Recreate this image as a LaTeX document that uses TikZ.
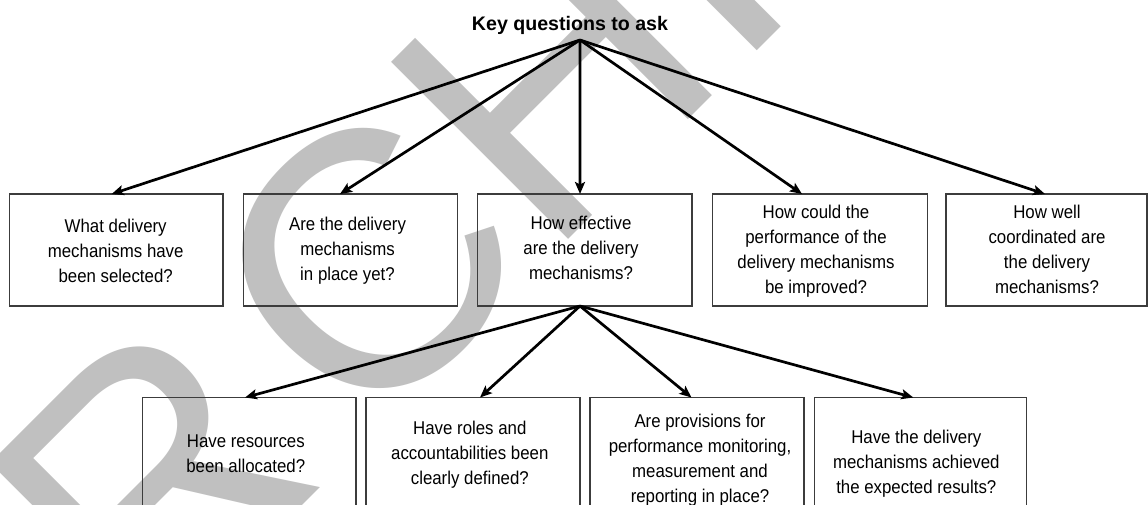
\documentclass[tikz,border=0pt]{standalone}
\usepackage{fontspec}
\setmainfont{Liberation Sans}
\newfontfamily\bodyfont{Liberation Sans}[FakeStretch=0.91]
\newfontfamily\wmfont{Liberation Sans}
\usetikzlibrary{arrows.meta}
\definecolor{wmgray}{RGB}{192,192,192}
\definecolor{boxgray}{RGB}{60,60,60}
\tikzset{
  qbox/.style={draw=boxgray, line width=1.3pt, inner sep=0pt, outer sep=0pt, anchor=north west},
  qtext/.style={align=center, inner sep=0pt, font=\bodyfont\fontsize{18.5}{25}\selectfont,
    execute at begin node=\strut, execute at end node=\strut},
  arr/.style={line width=2.7pt, -{Stealth[length=12pt, width=10pt, inset=2.5pt]}},
  wm/.style={text=wmgray, font=\wmfont\fontsize{364}{364}\selectfont, inner sep=0pt, rotate=45, anchor=base west}
}
\begin{document}
\begin{tikzpicture}[x=1pt,y=1pt]
\useasboundingbox (0,0) rectangle (1148,-504);
\fill[white] (0,0) rectangle (1148,-504);
% watermark
\node[wm] (wmark) at (-25.2,-833.7) {AR\kern42pt CHIVE};
% title
\node[anchor=base, inner sep=0pt, font=\bfseries\fontsize{19.6}{24}\selectfont] (title) at (570,-30) {Key questions to ask};
\coordinate (apex) at (580,-40);
% top row
\node[qbox, minimum width=213.7pt, minimum height=112pt] (q1) at (9.3,-194) {};
\node[qbox, minimum width=214pt, minimum height=112pt] (q2) at (243.5,-194) {};
\node[qbox, minimum width=214.3pt, minimum height=112pt] (q3) at (477.7,-194) {};
\node[qbox, minimum width=215pt, minimum height=112pt] (q4) at (712.7,-194) {};
\node[qbox, minimum width=201pt, minimum height=112pt] (q5) at (946,-194) {};
\node[qtext] (t1) at (115.7,-254.3) {What delivery\\mechanisms have\\been selected?};
\node[qtext] (t2) at (347.5,-252.2) {Are the delivery\\mechanisms\\in place yet?};
\node[qtext] (t3) at (581,-251.5) {How effective\\are the delivery\\mechanisms?};
\node[qtext] (t4) at (816,-253.3) {How could the\\performance of the\\delivery mechanisms\\be improved?};
\node[qtext] (t5) at (1047,-253.3) {How well\\coordinated are\\the delivery\\mechanisms?};
% bottom row
\node[qbox, minimum width=213.5pt, minimum height=140pt] (b1) at (142.5,-397.5) {};
\node[qbox, minimum width=214pt, minimum height=140pt] (b2) at (366,-397.5) {};
\node[qbox, minimum width=214pt, minimum height=140pt] (b3) at (590,-397.5) {};
\node[qbox, minimum width=212.4pt, minimum height=140pt] (b4) at (814.3,-397.5) {};
\node[qtext] (s1) at (245.8,-457.2) {Have resources\\been allocated?};
\node[qtext] (s2) at (469.8,-456.2) {Have roles and\\accountabilities been\\clearly defined?};
\node[qtext] (s3) at (700,-462.5) {Are provisions for\\performance monitoring,\\measurement and\\reporting in place?};
\node[qtext] (s4) at (916.3,-465.5) {Have the delivery\\mechanisms achieved\\the expected results?};
% arrows from title
\draw[arr] (apex) -- ([xshift=-4.5pt]q1.north);
\draw[arr] (apex) -- ([xshift=-10.5pt]q2.north);
\draw[arr] (apex) -- ([xshift=-4.85pt]q3.north);
\draw[arr] (apex) -- ([xshift=-18.2pt]q4.north);
\draw[arr] (apex) -- ([xshift=-1.5pt]q5.north);
% arrows from box 3
\coordinate (apex2) at ([xshift=-4.85pt]q3.south);
\draw[arr] (apex2) -- ([xshift=-4.25pt]b1.north);
\draw[arr] (apex2) -- ([xshift=7pt]b2.north);
\draw[arr] (apex2) -- ([xshift=-5.5pt]b3.north);
\draw[arr] (apex2) -- ([xshift=-7.2pt]b4.north);
\end{tikzpicture}
\end{document}
